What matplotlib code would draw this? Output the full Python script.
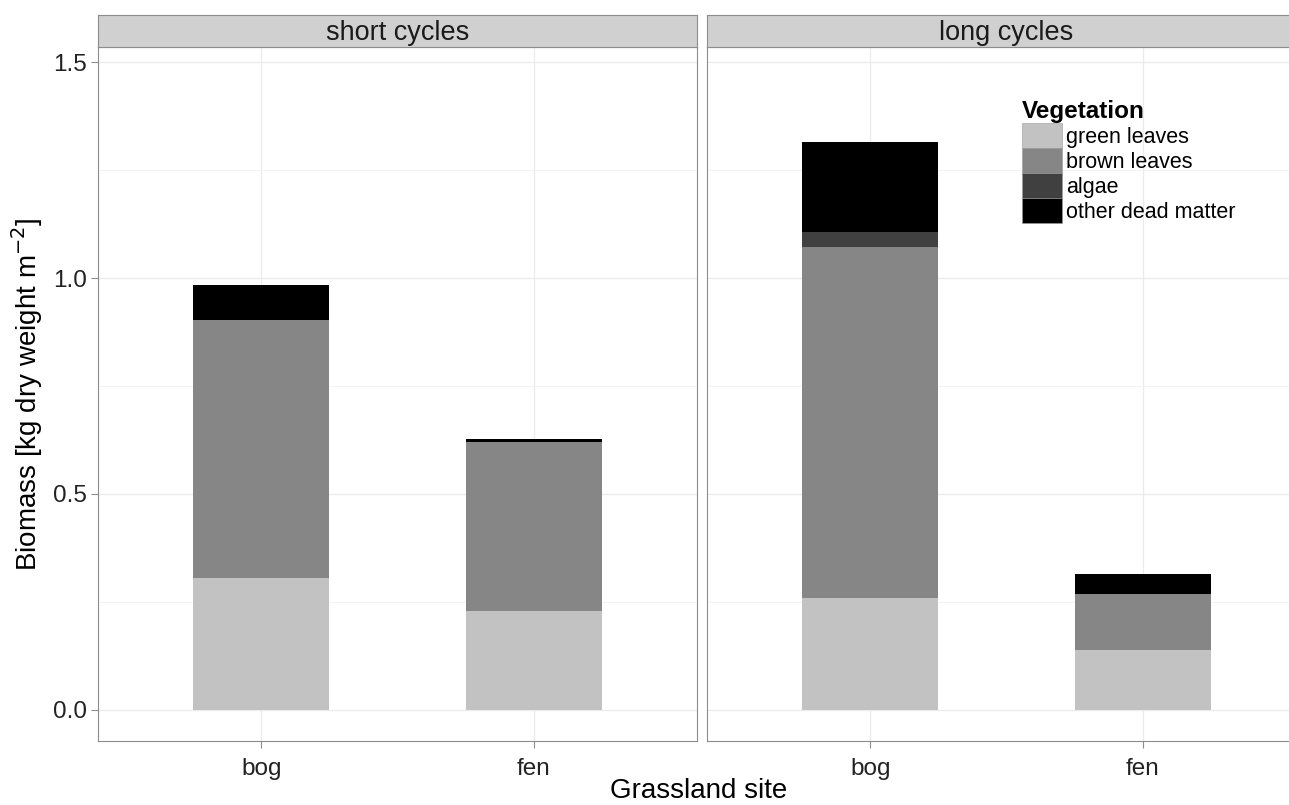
import numpy as np
import matplotlib.pyplot as plt
from matplotlib.patches import Patch

plt.rcParams['font.family'] = ['Liberation Sans', 'DejaVu Sans']

sites = ['bog', 'fen']
panels = ['short cycles', 'long cycles']
components = ['green leaves', 'brown leaves', 'algae', 'other dead matter']
colors = ['#c1c2c1', '#858685', '#3f403f', '#000000']

# biomass per component, [short cycles, long cycles] x [bog, fen]
green = [[0.306, 0.229], [0.259, 0.139]]
brown = [[0.597, 0.391], [0.813, 0.130]]
algae = [[0.0, 0.0], [0.034, 0.0]]
dead = [[0.081, 0.007], [0.209, 0.046]]
values = [green, brown, algae, dead]

W, H = 1289, 805
fig = plt.figure(figsize=(W / 100, H / 100), dpi=100)

def frac(x0, y0, x1, y1):
    return [x0 / W, 1 - y1 / H, (x1 - x0) / W, (y1 - y0) / H]

border = '#8c8c8c'
lefts = [98, 707]
axes = []
for p, name in enumerate(panels):
    x0 = lefts[p]
    ax = fig.add_axes(frac(x0, 47, x0 + 599, 741))
    st = fig.add_axes(frac(x0, 15, x0 + 599, 47))
    st.set_facecolor('#d0d0d0')
    st.set_xticks([]); st.set_yticks([])
    for s in st.spines.values():
        s.set_color(border)
    st.text(0.5, 0.45, name, ha='center', va='center', fontsize=19.5, color='#1a1a1a',
            transform=st.transAxes)

    x = np.arange(1, len(sites) + 1)
    bottom = np.zeros(len(sites))
    for c in range(len(components)):
        h = np.array(values[c][p])
        ax.bar(x, h, width=0.5, bottom=bottom, color=colors[c], zorder=2)
        bottom += h

    ax.set_xlim(0.4, 2.6)
    ax.set_ylim(-0.072, 1.535)
    ax.set_xticks(x)
    ax.set_xticklabels(sites, fontsize=17.5)
    ax.set_yticks([0, 0.5, 1.0, 1.5])
    ax.set_yticks([0.25, 0.75, 1.25], minor=True)
    ax.set_yticklabels(['0.0', '0.5', '1.0', '1.5'], fontsize=17.5)
    ax.grid(True, which='major', color='#ebebeb', lw=0.9, zorder=0)
    ax.grid(True, which='minor', axis='y', color='#f3f3f3', lw=0.6, zorder=0)
    ax.tick_params(which='major', length=5, color=border, labelcolor='#222222',
                   width=0.8, pad=3)
    ax.tick_params(axis='x', pad=7)
    ax.tick_params(which='minor', length=0)
    for s in ax.spines.values():
        s.set_color(border)
    ax.set_axisbelow(True)
    if p == 1:
        ax.tick_params(axis='y', labelleft=False, length=0)
    axes.append(ax)

axes[0].set_ylabel('Biomass [kg dry weight m$^{-2}$]', fontsize=20, labelpad=6)
fig.text(0.542, 0.017, 'Grassland site', ha='center', va='center', fontsize=20)

handles = [Patch(facecolor=colors[i], edgecolor='#999999', lw=0.4, label=components[i])
           for i in range(len(components))]
leg = axes[1].legend(handles=handles, title='Vegetation', loc='upper left',
                     bbox_to_anchor=(0.526, 0.923), frameon=False,
                     fontsize=15.5, title_fontsize=17.5, labelspacing=0,
                     handleheight=1.4, handlelength=1.85, handletextpad=0.2,
                     borderaxespad=0, borderpad=0, alignment='left')
leg.get_title().set_fontweight('bold')

fig.savefig('out.png', dpi=100)
